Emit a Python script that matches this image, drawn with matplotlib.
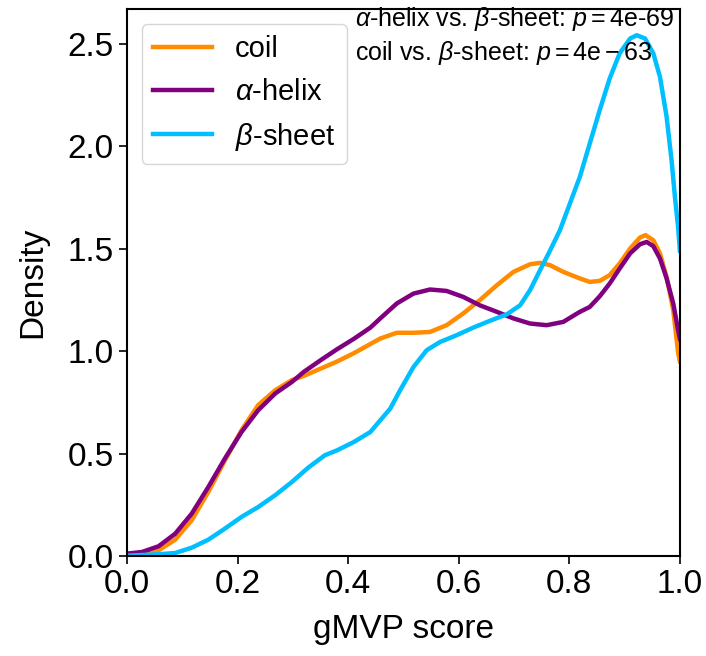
import numpy as np
import matplotlib
matplotlib.use("Agg")
from matplotlib import pyplot as plt

plt.rcParams['font.family'] = ['Liberation Sans', 'DejaVu Sans']
plt.rcParams['mathtext.fontset'] = 'custom'
plt.rcParams['mathtext.rm'] = 'Liberation Sans'
plt.rcParams['mathtext.it'] = 'Liberation Sans:italic'

# density curves (gMVP score, density)
coil_x = [0.0, 0.027, 0.057, 0.087, 0.117, 0.147, 0.177, 0.207, 0.237, 0.268,
          0.298, 0.32, 0.35, 0.38, 0.41, 0.44, 0.458, 0.488, 0.518, 0.548,
          0.578, 0.608, 0.638, 0.669, 0.699, 0.729, 0.747, 0.765, 0.789,
          0.819, 0.837, 0.855, 0.873, 0.891, 0.91, 0.928, 0.938, 0.952,
          0.964, 0.976, 0.988, 0.997, 1.0]
coil_y = [0.01, 0.013, 0.029, 0.081, 0.176, 0.314, 0.468, 0.615, 0.737, 0.81,
          0.859, 0.88, 0.915, 0.95, 0.99, 1.035, 1.062, 1.09, 1.09, 1.094,
          1.127, 1.184, 1.249, 1.322, 1.387, 1.424, 1.431, 1.42, 1.387,
          1.355, 1.338, 1.343, 1.371, 1.428, 1.501, 1.555, 1.566, 1.541,
          1.477, 1.362, 1.2, 0.99, 0.95]

helix_x = [0.0, 0.027, 0.057, 0.087, 0.117, 0.147, 0.177, 0.207, 0.237, 0.268,
           0.298, 0.32, 0.35, 0.38, 0.41, 0.44, 0.458, 0.488, 0.518, 0.548,
           0.578, 0.608, 0.638, 0.669, 0.699, 0.729, 0.759, 0.789, 0.819,
           0.837, 0.855, 0.873, 0.891, 0.91, 0.928, 0.94, 0.952, 0.964,
           0.976, 0.988, 0.997, 1.0]
helix_y = [0.013, 0.021, 0.049, 0.11, 0.208, 0.338, 0.477, 0.606, 0.712, 0.794,
           0.85, 0.90, 0.956, 1.01, 1.06, 1.115, 1.16, 1.233, 1.281, 1.301,
           1.294, 1.265, 1.224, 1.192, 1.16, 1.135, 1.127, 1.143, 1.192,
           1.216, 1.268, 1.33, 1.403, 1.477, 1.522, 1.533, 1.512, 1.452,
           1.355, 1.233, 1.10, 1.06]

sheet_x = [0.0, 0.057, 0.087, 0.117, 0.147, 0.177, 0.207, 0.237, 0.268, 0.298,
           0.328, 0.358, 0.38, 0.41, 0.44, 0.476, 0.494, 0.518, 0.542, 0.566,
           0.596, 0.626, 0.656, 0.687, 0.711, 0.729, 0.747, 0.765, 0.783,
           0.801, 0.819, 0.837, 0.855, 0.873, 0.891, 0.91, 0.922, 0.937,
           0.952, 0.964, 0.976, 0.985, 0.991, 0.997, 1.0]
sheet_y = [0.003, 0.01, 0.016, 0.042, 0.081, 0.135, 0.192, 0.24, 0.298, 0.362,
           0.433, 0.493, 0.517, 0.557, 0.606, 0.72, 0.81, 0.923, 1.005, 1.045,
           1.078, 1.115, 1.148, 1.18, 1.224, 1.298, 1.395, 1.49, 1.59,
           1.72, 1.85, 2.013, 2.176, 2.33, 2.452, 2.525, 2.541, 2.525,
           2.452, 2.338, 2.143, 1.93, 1.753, 1.6, 1.49]

p_helix_sheet = "4e-69"
p_coil_sheet = "4e-63"

fig = plt.figure(figsize=(7.06, 6.56), dpi=100)
ax = fig.add_axes([0.18, 0.152, 0.783, 0.834])

ax.plot(coil_x, coil_y, color="darkorange", lw=3.2, label="coil")
ax.plot(helix_x, helix_y, color="purple", lw=3.2, label=r"$\alpha$-helix")
ax.plot(sheet_x, sheet_y, color="deepskyblue", lw=3.2, label=r"$\beta$-sheet")

ax.set_xlim(0, 1)
ax.set_ylim(0, 2.668)
ax.set_xticks([0, 0.2, 0.4, 0.6, 0.8, 1.0])
ax.set_yticks([0, 0.5, 1.0, 1.5, 2.0, 2.5])
ax.tick_params(labelsize=24, length=6, width=1.2)
for s in ax.spines.values():
    s.set_linewidth(1.5)
ax.set_xlabel("gMVP score", fontsize=24, labelpad=10)
ax.set_ylabel("Density", fontsize=24, labelpad=14)

ax.legend(loc="upper left", fontsize=21)

ax.text(0.412, 2.62, r"$\alpha$-helix vs. $\beta$-sheet: $p = $" + p_helix_sheet,
        fontsize=18, va="center", ha="left", clip_on=False)
ax.text(0.412, 2.455, r"coil vs. $\beta$-sheet: $p = \mathrm{" + p_coil_sheet + "}$",
        fontsize=18, va="center", ha="left", clip_on=False)

fig.savefig("out.png", dpi=100)
